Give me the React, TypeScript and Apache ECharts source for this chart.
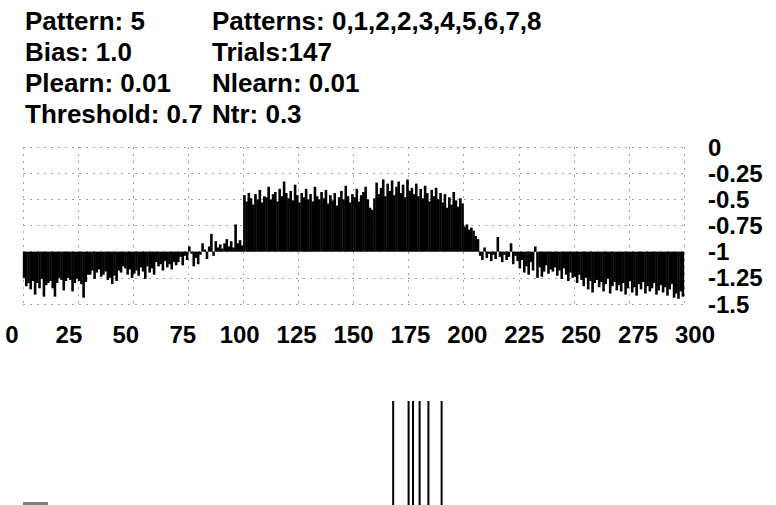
import React, { useEffect, useRef } from "react";
import * as echarts from "echarts";

const headerLeft = ["Pattern: 5", "Bias: 1.0", "Plearn: 0.01", "Threshold: 0.7"];
const headerRight = ["Patterns: 0,1,2,2,3,4,5,6,7,8", "Trials:147", "Nlearn: 0.01", "Ntr: 0.3"];

// activation of each of the 300 units (baseline -1)
const activation = [
  -1.25, -1.33, -1.30, -1.36, -1.28, -1.41, -1.30, -1.35, -1.26, -1.43,
  -1.32, -1.30, -1.28, -1.35, -1.43, -1.30, -1.25, -1.27, -1.37, -1.28,
  -1.25, -1.27, -1.38, -1.30, -1.26, -1.28, -1.31, -1.44, -1.29, -1.22,
  -1.22, -1.18, -1.26, -1.20, -1.17, -1.24, -1.22, -1.19, -1.27, -1.25,
  -1.31, -1.23, -1.28, -1.18, -1.20, -1.14, -1.16, -1.22, -1.17, -1.25,
  -1.21, -1.18, -1.23, -1.15, -1.19, -1.26, -1.14, -1.20, -1.16, -1.22,
  -1.10, -1.14, -1.12, -1.18, -1.09, -1.15, -1.12, -1.17, -1.10, -1.13,
  -1.10, -1.05, -1.13, -1.04, -1.08, -0.95, -1.02, -1.14, -1.06, -1.12,
  -1.03, -0.92, -0.98, -1.07, -0.95, -0.83, -1.04, -0.90, -0.96, -0.93,
  -0.97, -0.92, -0.88, -0.95, -0.90, -0.96, -0.74, -0.92, -0.89, -0.94,
  -0.46, -0.52, -0.44, -0.49, -0.55, -0.45, -0.50, -0.41, -0.53, -0.47,
  -0.48, -0.38, -0.50, -0.45, -0.43, -0.52, -0.40, -0.47, -0.33, -0.44,
  -0.49, -0.42, -0.51, -0.36, -0.46, -0.53, -0.44, -0.48, -0.40, -0.50,
  -0.45, -0.52, -0.38, -0.47, -0.50, -0.43, -0.49, -0.41, -0.54, -0.46,
  -0.51, -0.44, -0.56, -0.48, -0.42, -0.50, -0.37, -0.47, -0.53, -0.45,
  -0.48, -0.40, -0.52, -0.46, -0.43, -0.38, -0.50, -0.58, -0.60, -0.49,
  -0.34, -0.45, -0.39, -0.31, -0.47, -0.35, -0.42, -0.32, -0.46, -0.38,
  -0.33, -0.44, -0.36, -0.48, -0.31, -0.42, -0.39, -0.45, -0.35, -0.47,
  -0.40, -0.49, -0.37, -0.44, -0.52, -0.41, -0.47, -0.39, -0.50, -0.44,
  -0.53, -0.45, -0.58, -0.48, -0.55, -0.43, -0.51, -0.57, -0.49, -0.54,
  -0.76, -0.74, -0.79, -0.77, -0.80, -0.85, -0.88, -1.04, -1.08, -0.96,
  -1.06, -1.02, -1.09, -1.03, -1.07, -0.86, -1.05, -1.10, -1.03, -1.08,
  -1.05, -0.92, -1.12, -1.04, -1.09, -1.16, -1.08, -1.20, -1.14, -1.22,
  -1.10, -1.18, -0.95, -1.25, -1.15, -1.24, -1.19, -1.13, -1.21, -1.17,
  -1.19, -1.15, -1.23, -1.18, -1.26, -1.16, -1.22, -1.28, -1.20, -1.25,
  -1.24, -1.30, -1.22, -1.27, -1.33, -1.25, -1.36, -1.28, -1.39, -1.30,
  -1.27, -1.34, -1.29, -1.38, -1.31, -1.26, -1.40, -1.33, -1.29, -1.37,
  -1.32, -1.38, -1.30, -1.41, -1.35, -1.28, -1.39, -1.34, -1.42, -1.31,
  -1.36, -1.29, -1.40, -1.33, -1.38, -1.35, -1.30, -1.41, -1.37, -1.32,
  -1.39, -1.34, -1.42, -1.36, -1.31, -1.44, -1.40, -1.45, -1.38, -1.43,
];
const baseline = -1;

// output spikes (unit positions)
const spikes = [168, 175, 177, 180, 184, 190];

const xMin = 0;
const xMax = 300;
const xStep = 25;
const yMin = -1.5;
const yMax = 0;
const yStep = 0.25;

const FONT = "'Liberation Sans', Arial, sans-serif";

export default function App() {
  const ref = useRef<HTMLDivElement>(null);
  useEffect(() => {
    const chart = echarts.init(ref.current!, null, { renderer: "svg" });
    const dotted = { show: true, lineStyle: { color: "#a0a0a0", width: 1, type: [2, 5] } };
    const header: any[] = [];
    headerLeft.forEach((t, i) => {
      header.push({
        type: "text", left: 25, top: 8 + i * 31,
        style: { text: t, font: `bold 26px ${FONT}`, fill: "#000" },
      });
    });
    headerRight.forEach((t, i) => {
      header.push({
        type: "text", left: 212, top: 8 + i * 31,
        style: { text: t, font: `bold 26px ${FONT}`, fill: "#000" },
      });
    });
    chart.setOption({
      animation: false,
      backgroundColor: "#ffffff",
      grid: [
        { left: 23, top: 147, width: 661, height: 157 },
        { left: 23, top: 401, width: 661, height: 104 },
        { left: 12, top: 318, width: 683, height: 1 },
      ],
      xAxis: [
        {
          gridIndex: 0, type: "value", min: xMin, max: xMax, interval: xStep,
          axisLine: { show: false }, axisTick: { show: false }, axisLabel: { show: false },
          splitLine: dotted,
        },
        { gridIndex: 1, type: "value", min: xMin, max: xMax, show: false },
        {
          gridIndex: 2, type: "value", min: xMin, max: xMax, interval: xStep, position: "bottom",
          axisLine: { show: false }, axisTick: { show: false }, splitLine: { show: false },
          axisLabel: { fontSize: 24, fontWeight: "bold", fontFamily: FONT, color: "#000", margin: 3 },
        },
      ],
      yAxis: [
        {
          gridIndex: 0, type: "value", min: yMin, max: yMax, interval: yStep, position: "right",
          axisLine: { show: false }, axisTick: { show: false }, splitLine: dotted,
          axisLabel: { fontSize: 24, fontWeight: "bold", fontFamily: FONT, color: "#000", margin: 24, align: "left" },
        },
        { gridIndex: 0, type: "value", min: yMin - baseline, max: yMax - baseline, show: false },
        { gridIndex: 1, type: "value", min: 0, max: 1, show: false },
        { gridIndex: 2, type: "value", min: 0, max: 1, show: false },
      ],
      series: [
        {
          type: "bar", xAxisIndex: 0, yAxisIndex: 1,
          data: activation.map((v, i) => [i + 0.5, v - baseline]),
          barWidth: 2.6, itemStyle: { color: "#000" },
        },
        {
          type: "bar", xAxisIndex: 1, yAxisIndex: 2,
          data: spikes.map((s) => [s, 1]),
          barWidth: 2, itemStyle: { color: "#000" },
        },
      ],
      graphic: [
        ...header,
        { type: "rect", shape: { x: 23, y: 502, width: 25, height: 3 }, style: { fill: "#808080" } },
      ],
    });
    return () => chart.dispose();
  }, []);
  return (
    <div
      ref={ref}
      style={{ position: "fixed", left: 0, top: 0, width: 776, height: 505, background: "#fff" }}
    />
  );
}
